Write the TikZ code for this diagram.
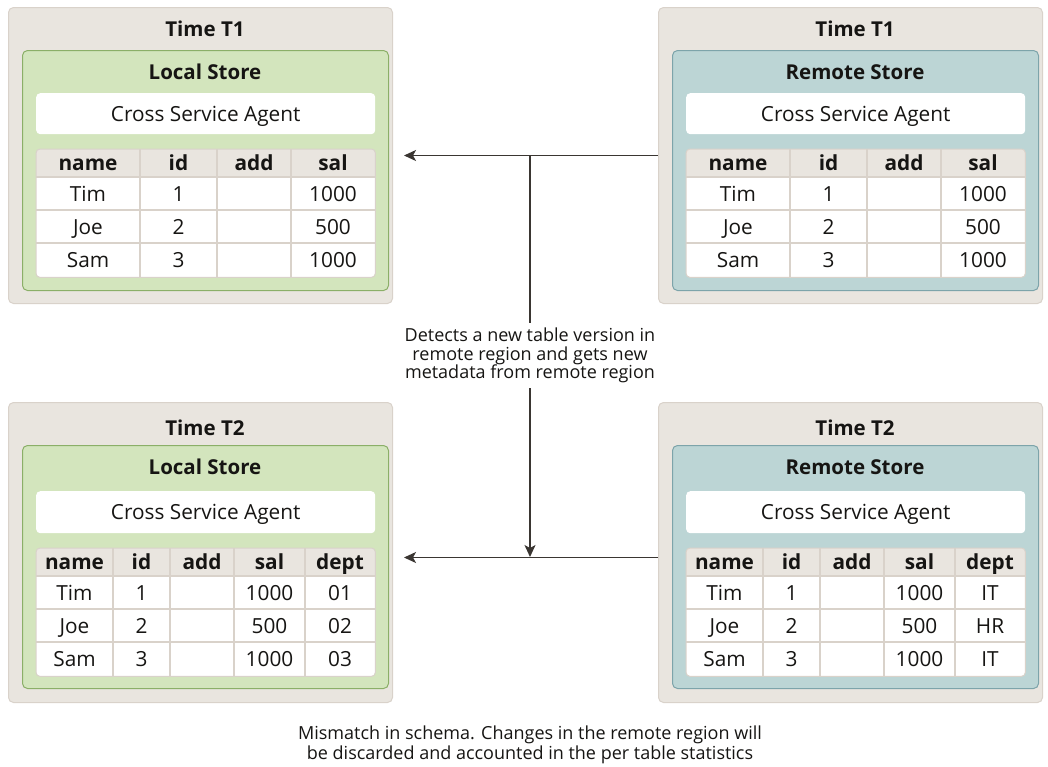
\documentclass[tikz,border=0pt]{standalone}
\usepackage{fontspec}
\setmainfont{Open Sans}
\usetikzlibrary{arrows.meta}
\definecolor{panelbg}{HTML}{E9E5DF}
\definecolor{panelbd}{HTML}{D9D2CA}
\definecolor{greenbg}{HTML}{D3E5BD}
\definecolor{greenbd}{HTML}{8BAF68}
\definecolor{tealbg}{HTML}{BCD5D5}
\definecolor{tealbd}{HTML}{7DA4AA}
\definecolor{txt}{HTML}{161513}
\definecolor{arrowc}{HTML}{3A3632}
\tikzset{
  panel/.style={draw=panelbd, fill=panelbg, line width=1pt, rounded corners=5pt, anchor=north west, inner sep=0pt, minimum width=384pt},
  localbox/.style={draw=greenbd, fill=greenbg, line width=1pt, rounded corners=5pt, anchor=north west, inner sep=0pt, minimum width=366pt},
  remotebox/.style={draw=tealbd, fill=tealbg, line width=1pt, rounded corners=5pt, anchor=north west, inner sep=0pt, minimum width=366pt},
  ttl/.style={inner sep=0pt, text height=15pt, text depth=0pt, font=\fontsize{20.5}{24}\selectfont\bfseries, text=txt},
  agent/.style={fill=white, rounded corners=4pt, anchor=north west, inner sep=0pt, minimum width=339pt, text height=15pt, text depth=0pt, font=\fontsize{20.8}{24}\selectfont, text=txt},
  tabbox/.style={fill=white, rounded corners=4pt, anchor=north west, inner sep=0pt, minimum width=339pt, minimum height=128pt},
  gridline/.style={draw=panelbd, line width=1.5pt},
  tabline/.style={draw=panelbd, line width=1pt, rounded corners=4pt},
  cell/.style={inner sep=0pt, text height=15pt, text depth=0pt, font=\fontsize{20.8}{24}\selectfont, text=txt},
  arr/.style={draw=arrowc, line width=1.4pt, -{Stealth[length=12pt, width=11pt, inset=3pt]}},
  plainline/.style={draw=arrowc, line width=1.4pt},
  note/.style={align=center, text=txt, font=\fontsize{18}{18.5}\selectfont, inner xsep=2pt}
}
% table frame: #1 name, #2 x, #3 y, #4 column dividers
\newcommand\gridtable[4]{%
  \node[tabbox] (#1) at (#2,#3) {};
  \begin{scope}
    \clip[rounded corners=4pt] (#1.north west) rectangle (#1.south east);
    \fill[panelbg] (#1.north west) rectangle ([yshift=-28pt]#1.north east);
    \foreach \cx in {#4} \draw[gridline] ([xshift=\cx pt]#1.north west) -- ([xshift=\cx pt]#1.south west);
    \foreach \ry in {28,61,94} \draw[gridline] ([yshift=-\ry pt]#1.north west) -- ([yshift=-\ry pt]#1.north east);
  \end{scope}
  \draw[tabline] (#1.north west) rectangle (#1.south east);
}
% #1 prefix, #2 y, #3 x0, #4-#7 texts
\newcommand\rowfour[7]{%
  \node[cell] (#1-1) at (#3+52,#2) {#4};
  \node[cell] (#1-2) at (#3+142.5,#2) {#5};
  \node[cell] (#1-3) at (#3+218,#2) {#6};
  \node[cell] (#1-4) at (#3+297,#2) {#7};
}
% #1 prefix, #2 y, #3 x0, #4-#8 texts
\newcommand\rowfive[8]{%
  \node[cell] (#1-1) at (#3+38.5,#2) {#4};
  \node[cell] (#1-2) at (#3+105.5,#2) {#5};
  \node[cell] (#1-3) at (#3+166,#2) {#6};
  \node[cell] (#1-4) at (#3+233.5,#2) {#7};
  \node[cell] (#1-5) at (#3+304,#2) {#8};
}
\begin{document}
\begin{tikzpicture}[x=1pt,y=-1pt]
\useasboundingbox[fill=white] (0,0) rectangle (1048,766);

% ---------- top left ----------
\node[panel, minimum height=296pt] (p1) at (8,7) {};
\node[ttl] (p1t) at (205,28.5) {Time T1};
\node[localbox, minimum height=240pt] (s1) at (22,50) {};
\node[ttl] (s1t) at (205,72) {Local Store};
\node[agent, minimum height=41pt] (a1) at (36,93) {Cross Service Agent};
\gridtable{t1}{36}{149}{104,181,255}
\rowfour{t1h}{163}{36}{\textbf{name}}{\textbf{id}}{\textbf{add}}{\textbf{sal}}
\rowfour{t1r1}{193.5}{36}{Tim}{1}{}{1000}
\rowfour{t1r2}{226.5}{36}{Joe}{2}{}{500}
\rowfour{t1r3}{259.5}{36}{Sam}{3}{}{1000}

% ---------- top right ----------
\node[panel, minimum height=296pt] (p2) at (658,7) {};
\node[ttl] (p2t) at (855,28.5) {Time T1};
\node[remotebox, minimum height=240pt] (s2) at (672,50) {};
\node[ttl] (s2t) at (855,72) {Remote Store};
\node[agent, minimum height=41pt] (a2) at (686,93) {Cross Service Agent};
\gridtable{t2}{686}{149}{104,181,255}
\rowfour{t2h}{163}{686}{\textbf{name}}{\textbf{id}}{\textbf{add}}{\textbf{sal}}
\rowfour{t2r1}{193.5}{686}{Tim}{1}{}{1000}
\rowfour{t2r2}{226.5}{686}{Joe}{2}{}{500}
\rowfour{t2r3}{259.5}{686}{Sam}{3}{}{1000}

% ---------- bottom left ----------
\node[panel, minimum height=300pt] (p3) at (8,402) {};
\node[ttl] (p3t) at (205,428) {Time T2};
\node[localbox, minimum height=243pt] (s3) at (22,445) {};
\node[ttl] (s3t) at (205,467) {Local Store};
\node[agent, minimum height=42pt] (a3) at (36,491) {Cross Service Agent};
\gridtable{t3}{36}{548}{77,134,198,269}
\rowfive{t3h}{562}{36}{\textbf{name}}{\textbf{id}}{\textbf{add}}{\textbf{sal}}{\textbf{dept}}
\rowfive{t3r1}{592.5}{36}{Tim}{1}{}{1000}{01}
\rowfive{t3r2}{625.5}{36}{Joe}{2}{}{500}{02}
\rowfive{t3r3}{658.5}{36}{Sam}{3}{}{1000}{03}

% ---------- bottom right ----------
\node[panel, minimum height=300pt] (p4) at (658,402) {};
\node[ttl] (p4t) at (855,428) {Time T2};
\node[remotebox, minimum height=243pt] (s4) at (672,445) {};
\node[ttl] (s4t) at (855,467) {Remote Store};
\node[agent, minimum height=42pt] (a4) at (686,491) {Cross Service Agent};
\gridtable{t4}{686}{548}{77,134,198,269}
\rowfive{t4h}{562}{686}{\textbf{name}}{\textbf{id}}{\textbf{add}}{\textbf{sal}}{\textbf{dept}}
\rowfive{t4r1}{592.5}{686}{Tim}{1}{}{1000}{IT}
\rowfive{t4r2}{625.5}{686}{Joe}{2}{}{500}{HR}
\rowfive{t4r3}{658.5}{686}{Sam}{3}{}{1000}{IT}

% ---------- connectors ----------
\coordinate (e1) at ([xshift=11pt]p1.east);
\coordinate (j1) at (530,155);
\coordinate (s2w) at ([yshift=-5pt]p4.west);
\coordinate (e2) at ([shift={(11pt,-5pt)}]p3.east);
\coordinate (j2) at (530,557);
\draw[arr] (p2.west) -- (e1);
\draw[arr] (s2w) -- (e2);
\node[note, inner ysep=5pt] (lbl) at (530,355.5) {Detects a new table version in\\remote region and gets new\\metadata from remote region};
\draw[plainline] (j1) -- (lbl.north);
\draw[arr] (lbl.south) -- (j2);

\node[note, font=\fontsize{18}{20}\selectfont] (msg) at (530,745) {Mismatch in schema. Changes in the remote region will\\be discarded and accounted in the per table statistics};
\end{tikzpicture}
\end{document}
